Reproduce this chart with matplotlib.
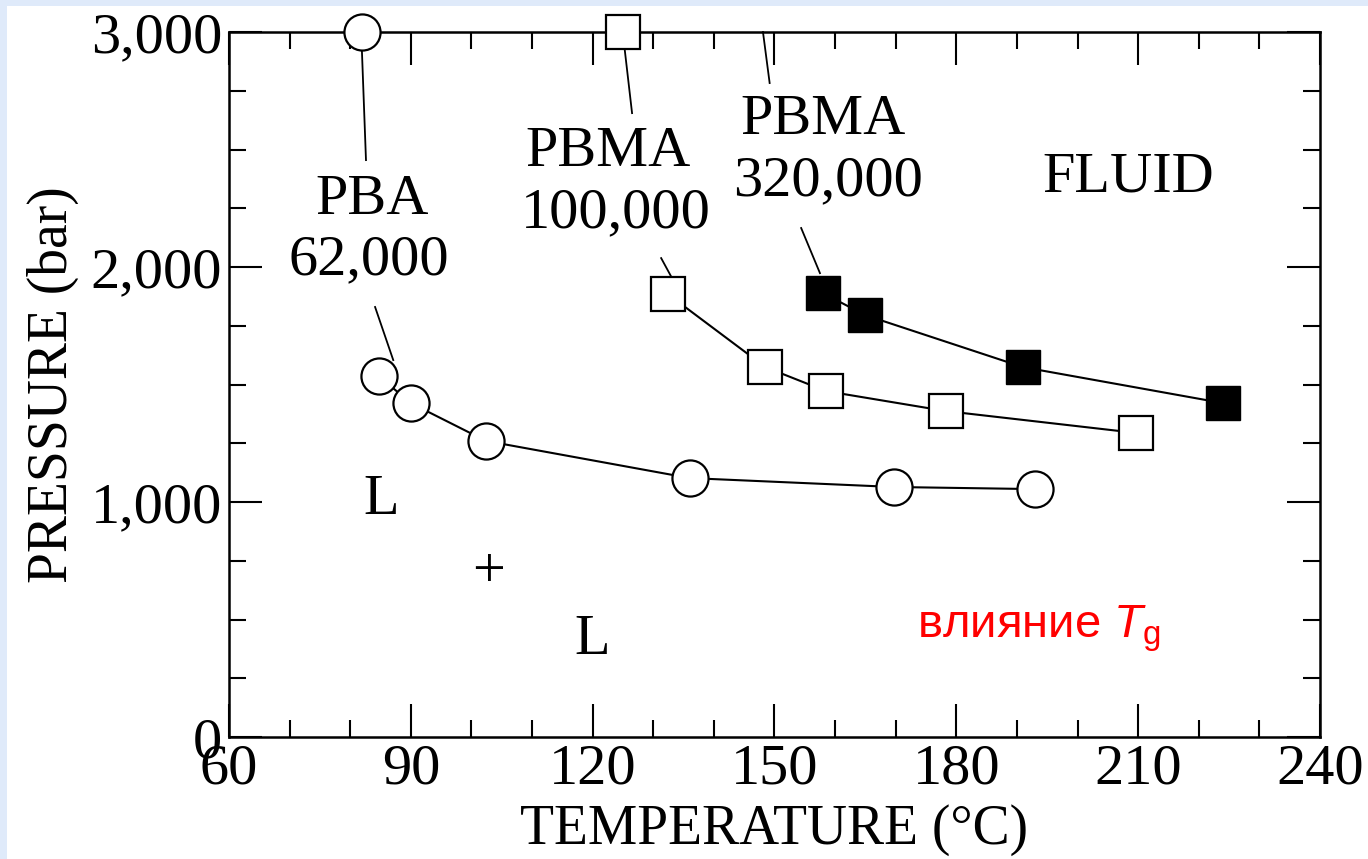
import matplotlib
matplotlib.use("Agg")
import matplotlib.pyplot as plt
from matplotlib.patches import Rectangle
from matplotlib.ticker import FuncFormatter, MultipleLocator

# PBA, Mw 62,000 (open circles)
pba_t = [84.7, 90.0, 102.4, 136.0, 169.7, 193.0]
pba_p = [1536, 1421, 1260, 1102, 1064, 1055]

# PBMA, Mw 100,000 (open squares)
pbma100_t = [132.4, 148.5, 158.5, 178.3, 209.7]
pbma100_p = [1885, 1574, 1472, 1387, 1294]

# PBMA, Mw 320,000 (filled squares)
pbma320_t = [158.0, 164.9, 191.0, 224.0]
pbma320_p = [1889, 1796, 1574, 1421]

# symbol keys sitting on the top axis
key_circle_t, key_circle_p = [81.9], [3000]
key_square_t, key_square_p = [125.0], [3000]

plt.rcParams["font.family"] = ["Liberation Serif", "DejaVu Serif"]
plt.rcParams["mathtext.fontset"] = "custom"
plt.rcParams["mathtext.rm"] = "Liberation Sans"
plt.rcParams["mathtext.it"] = "Liberation Sans:italic"

fig = plt.figure(figsize=(13.68, 8.59), dpi=100)
fig.patch.set_facecolor("#dfeafa")
fig.patches.append(
    Rectangle((7 / 1368, 0), 1, 1 - 6 / 859, transform=fig.transFigure,
              facecolor="white", edgecolor="none", zorder=-10)
)
ax = fig.add_axes([0.1674, 0.1420, 0.7975, 0.8207])
ax.set_zorder(1)

line_kw = dict(color="black", lw=1.5, zorder=2)
circ_kw = dict(ls="none", marker="o", ms=26, mfc="white", mec="black", mew=1.6,
               zorder=4, clip_on=False)
sq_kw = dict(ls="none", marker="s", ms=25, mfc="white", mec="black", mew=1.6,
             zorder=4, clip_on=False)

ax.plot(pba_t, pba_p, **line_kw)
ax.plot(pba_t, pba_p, **circ_kw)
ax.plot(pbma100_t, pbma100_p, **line_kw)
ax.plot(pbma100_t, pbma100_p, **sq_kw)
ax.plot(pbma320_t, pbma320_p, **line_kw)
ax.plot(pbma320_t, pbma320_p, ls="none", marker="s", ms=25, mfc="black",
        mec="black", zorder=4, clip_on=False)
ax.plot(key_circle_t, key_circle_p, **circ_kw)
ax.plot(key_square_t, key_square_p, **sq_kw)

# leader lines from labels
leaders = [
    ((81.9, 2940), (82.6, 2455)),
    ((125.3, 2923), (126.5, 2655)),
    ((148.1, 3000), (149.2, 2783)),
    ((84.1, 1830), (87.1, 1604)),
    ((131.3, 2038), (132.9, 1962)),
    ((154.4, 2166), (157.5, 1974)),
]
for (x0, y0), (x1, y1) in leaders:
    ax.plot([x0, x1], [y0, y1], color="black", lw=1.3, zorder=3, clip_on=False)

tfs = 42
ax.text(83.6, 2285, "PBA", fontsize=tfs, ha="center", va="center")
ax.text(83.1, 2030, "62,000", fontsize=tfs, ha="center", va="center")
ax.text(122.5, 2489, "PBMA", fontsize=tfs, ha="center", va="center")
ax.text(123.9, 2230, "100,000", fontsize=tfs, ha="center", va="center")
ax.text(158.0, 2626, "PBMA", fontsize=tfs, ha="center", va="center")
ax.text(158.8, 2366, "320,000", fontsize=tfs, ha="center", va="center")
ax.text(208.4, 2379, "FLUID", fontsize=tfs, ha="center", va="center")
ax.text(85.1, 1009, "L", fontsize=tfs, ha="center", va="center")
ax.text(102.9, 700, "+", fontsize=tfs, ha="center", va="center")
ax.text(120.0, 413, "L", fontsize=tfs, ha="center", va="center")
ax.text(173.5, 425, r"влияние $\mathit{T}_{\mathrm{g}}$", fontsize=34,
        color="red", family=["Liberation Sans", "DejaVu Sans"],
        ha="left", va="baseline")

ax.set_xlim(60, 240)
ax.set_ylim(0, 3000)
ax.xaxis.set_major_locator(MultipleLocator(30))
ax.xaxis.set_minor_locator(MultipleLocator(10))
ax.yaxis.set_major_locator(MultipleLocator(1000))
ax.yaxis.set_minor_locator(MultipleLocator(250))
ax.yaxis.set_major_formatter(FuncFormatter(lambda v, pos: f"{v:,.0f}"))
ax.tick_params(which="both", direction="in", top=True, right=True,
               width=1.5, labelsize=42)
ax.tick_params(which="major", length=24, pad=5)
ax.tick_params(which="minor", length=12)
for s in ax.spines.values():
    s.set_linewidth(1.8)

ax.set_xlabel("TEMPERATURE (°C)", fontsize=40, labelpad=6)
ax.set_ylabel("PRESSURE (bar)", fontsize=40, labelpad=8)

fig.savefig("out.png", dpi=100, facecolor=fig.get_facecolor())
